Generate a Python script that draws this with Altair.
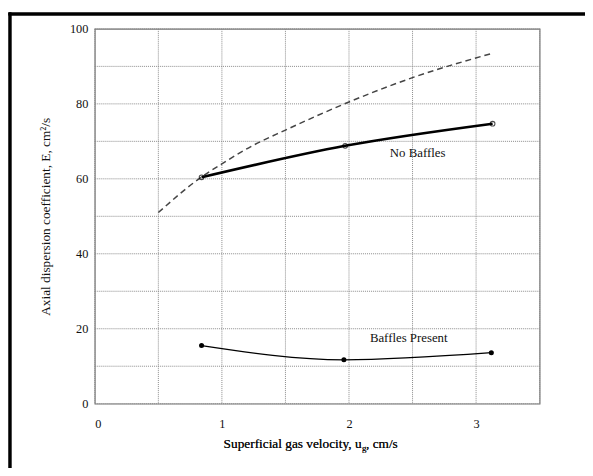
import altair as alt
import pandas as pd

# --- data ---
ug_nobaffle = [0.84, 1.97, 3.13]
e_nobaffle = [60.4, 68.8, 74.7]

ug_baffle = [0.84, 1.96, 3.12]
e_baffle = [15.5, 11.7, 13.6]

ug_dashed = [0.50, 0.84, 1.00, 1.25, 1.50, 2.00, 2.50, 3.13]
e_dashed = [51.0, 60.5, 64.0, 69.0, 73.0, 80.5, 87.0, 93.5]

label_text = ["No Baffles", "Baffles Present"]
label_x = [2.54, 2.47]
label_y = [67.0, 17.4]

x_ticks = [0, 0.5, 1, 1.5, 2, 2.5, 3, 3.5]
y_ticks = [0, 10, 20, 30, 40, 50, 60, 70, 80, 90, 100]

FONT = "Liberation Serif"
W, H = 451, 380

nb = pd.DataFrame({"u": ug_nobaffle, "E": e_nobaffle})
bp = pd.DataFrame({"u": ug_baffle, "E": e_baffle})
ds = pd.DataFrame({"u": ug_dashed, "E": e_dashed})
lb = pd.DataFrame({"t": label_text, "u": label_x, "E": label_y})
gx = pd.DataFrame({"u": x_ticks})
gy = pd.DataFrame({"E": y_ticks})

xs = alt.Scale(domain=[0, 3.5], nice=False)
ys = alt.Scale(domain=[0, 100], nice=False)

xaxis = alt.Axis(values=x_ticks,
                 labelExpr="datum.value % 1 == 0 ? format(datum.value, 'd') : ''",
                 title=None, ticks=False, labelPadding=14, grid=False, domain=False)
yaxis = alt.Axis(values=y_ticks,
                 labelExpr="datum.value % 20 == 0 ? format(datum.value, 'd') : ''",
                 title="Axial dispersion coefficient, E, cm²/s", ticks=False,
                 labelPadding=7, titlePadding=17, grid=False, domain=False)

GRID = dict(color="#8a8a8a", strokeWidth=1, strokeDash=[1, 1])

grid_x = alt.Chart(gx).mark_rule(**GRID).encode(
    x=alt.X("u:Q", scale=xs, axis=xaxis))
grid_y = alt.Chart(gy).mark_rule(**GRID).encode(
    y=alt.Y("E:Q", scale=ys, axis=yaxis))

dashed = alt.Chart(ds).mark_line(color="#444444", strokeWidth=1.5, strokeDash=[6, 4],
                                 interpolate="monotone").encode(x="u:Q", y="E:Q")
nb_line = alt.Chart(nb).mark_line(color="black", strokeWidth=2.6,
                                  interpolate="monotone").encode(x="u:Q", y="E:Q")
nb_pts = alt.Chart(nb).mark_point(shape="circle", filled=False, color="black", size=22,
                                  strokeWidth=1.1).encode(x="u:Q", y="E:Q")
bp_line = alt.Chart(bp).mark_line(color="black", strokeWidth=1.3,
                                  interpolate="monotone").encode(x="u:Q", y="E:Q")
bp_pts = alt.Chart(bp).mark_point(shape="circle", filled=True, color="black", size=26,
                                  opacity=1).encode(x="u:Q", y="E:Q")
labels = alt.Chart(lb).mark_text(font=FONT, fontSize=13, color="#111111").encode(
    x="u:Q", y="E:Q", text="t:N")

# x-axis title with subscript g
xt1 = alt.Chart(lb).mark_text(font=FONT, fontSize=13.5, align="right", baseline="alphabetic",
                              color="#111111").encode(
    x=alt.value(270.5), y=alt.value(H + 45), text=alt.value("Superficial gas velocity, u"))
xt2 = alt.Chart(lb).mark_text(font=FONT, fontSize=9, align="left", baseline="alphabetic",
                              color="#111111").encode(
    x=alt.value(271), y=alt.value(H + 48), text=alt.value("g"))
xt3 = alt.Chart(lb).mark_text(font=FONT, fontSize=13.5, align="left", baseline="alphabetic",
                              color="#111111").encode(
    x=alt.value(275), y=alt.value(H + 45), text=alt.value(", cm/s"))

# outer frame (left and top)
frame_left = alt.Chart(lb).mark_rule(color="black", strokeWidth=3).encode(
    x=alt.value(-86), y=alt.value(-16.5), y2=alt.value(470))
frame_top = alt.Chart(lb).mark_rule(color="black", strokeWidth=3).encode(
    x=alt.value(-87.5), x2=alt.value(500), y=alt.value(-15))

chart = alt.layer(grid_x, grid_y, dashed, nb_line, nb_pts, bp_line, bp_pts, labels,
                  xt1, xt2, xt3, frame_left, frame_top).properties(
    width=W, height=H,
    background="white",
    autosize=alt.AutoSizeParams(type="none"),
    padding={"left": 88, "top": 18, "right": 46, "bottom": 62},
).configure_view(stroke="#777777", strokeWidth=1.2).configure_axis(
    labelFont=FONT, titleFont=FONT, labelFontSize=12.5, titleFontSize=13.5,
    labelColor="#111111", titleColor="#111111", titleFontWeight="normal",
)

chart.save("out.html", embed_options={"renderer": "svg", "actions": False})
